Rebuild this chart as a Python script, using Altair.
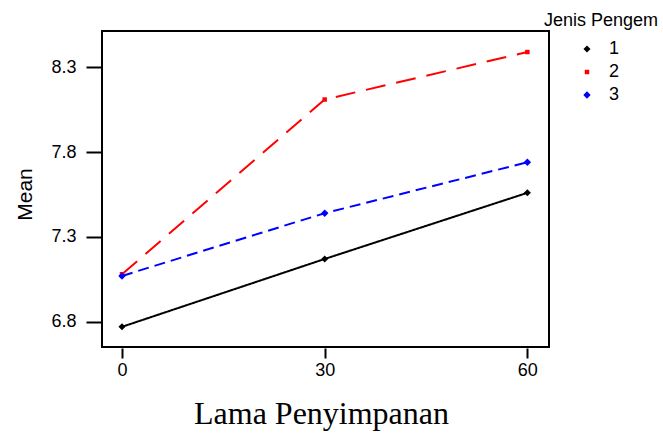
import altair as alt
import pandas as pd

# Data
storage_days = [0, 30, 60]
series_names = ["1", "2", "3"]
mean_1 = [6.77, 7.17, 7.56]
mean_2 = [7.08, 8.11, 8.39]
mean_3 = [7.07, 7.44, 7.74]

rows = []
for name, vals in zip(series_names, [mean_1, mean_2, mean_3]):
    for d, v in zip(storage_days, vals):
        rows.append({"Lama": d, "Mean": v, "Jenis": name})
df = pd.DataFrame(rows)

SANS = "Liberation Sans"
SERIF = "Liberation Serif"

x_enc = alt.X(
    "Lama:Q",
    scale=alt.Scale(domain=[-2.96, 63.2], nice=False, zero=False),
    axis=alt.Axis(
        values=storage_days, title="Lama Penyimpanan", format="d",
        domain=False, tickSize=10, tickWidth=2, tickColor="black", offset=1,
        labelFont=SANS, labelFontSize=18, labelColor="black", labelPadding=3,
        titleFont=SERIF, titleFontSize=32, titleFontWeight="normal", titleColor="black",
        titleX=219, titleY=75, titleBaseline="alphabetic", titleAlign="center",
        grid=False,
    ),
)
y_enc = alt.Y(
    "Mean:Q",
    scale=alt.Scale(domain=[6.651, 8.514], nice=False, zero=False),
    axis=alt.Axis(
        values=[6.8, 7.3, 7.8, 8.3], title="Mean", format=".1f",
        domain=False, tickSize=15, tickWidth=2, tickColor="black", offset=1,
        labelFont=SANS, labelFontSize=18, labelColor="black", labelPadding=10,
        titleFont=SANS, titleFontSize=21, titleFontWeight="normal", titleColor="black",
        titleAngle=270, titleX=-70, titleY=163, titleBaseline="alphabetic", titleAlign="center",
        grid=False,
    ),
)

color_scale = alt.Scale(domain=series_names, range=["#000000", "#ff0000", "#0000ff"])
shape_scale = alt.Scale(domain=series_names, range=["diamond", "square", "diamond"])
size_scale = alt.Scale(type="ordinal", domain=series_names, range=[50, 20, 55])
dash_scale = alt.Scale(domain=series_names, range=[[1, 0], [20, 11], [11, 6]])

legend = alt.Legend(
    title="Jenis Pengem", orient="none", legendX=442, legendY=-19,
    titleFont=SANS, titleFontSize=18, titleFontWeight="normal", titleColor="black",
    labelFont=SANS, labelFontSize=18, labelColor="black",
    symbolOffset=34, labelOffset=13, rowPadding=5, titlePadding=10, padding=0,
    symbolStrokeWidth=0,
)

color_enc = alt.Color("Jenis:N", scale=color_scale, legend=legend)
shape_enc = alt.Shape("Jenis:N", scale=shape_scale, legend=legend)
size_enc = alt.Size("Jenis:N", scale=size_scale, legend=legend)
dash_enc = alt.StrokeDash("Jenis:N", scale=dash_scale, legend=legend)

lines = alt.Chart(df).mark_line(strokeWidth=2).encode(
    x=x_enc, y=y_enc, color=color_enc, strokeDash=dash_enc,
)

points = alt.Chart(df).mark_point(filled=True, opacity=1).encode(
    x=x_enc, y=y_enc, color=color_enc, shape=shape_enc, size=size_enc,
)

chart = (
    alt.layer(lines, points)
    .properties(width=447, height=316, padding={"left": 102, "top": 31, "right": 114, "bottom": 86},
                autosize=alt.AutoSizeParams(type="none"), background="white")
    .configure_view(stroke="black", strokeWidth=2)
)

chart.save("out.html", embed_options={"renderer": "svg", "actions": False})
